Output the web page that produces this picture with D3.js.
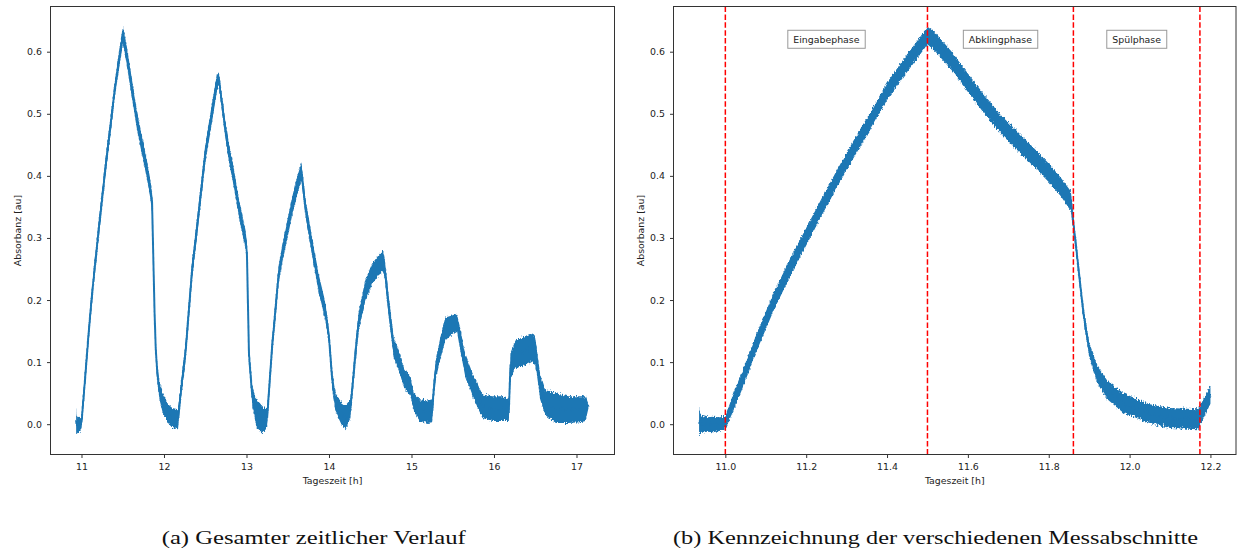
<!DOCTYPE html>
<html>
<head>
<meta charset="utf-8">
<script src="https://cdn.jsdelivr.net/npm/d3@7"></script>
<style>
  body { margin: 0; background: #fff; }
  svg { display: block; }
  .tick text { font-family: "DejaVu Sans", sans-serif; font-size: 9.4px; fill: #222; }
  .tick line { stroke: #333; }
  .label { font-family: "DejaVu Sans", sans-serif; font-size: 9.4px; fill: #222; }
  .caption { font-family: "Liberation Serif", serif; font-size: 19px; fill: #111; }
</style>
</head>
<body>
<svg id="chart" width="1238" height="554"></svg>
<script>
// absorbance measurement: time of day [h] with lower / upper edge of the noisy trace
const hours = [
  10.935, 10.940, 10.955, 10.970, 10.985, 11.000, 11.020, 11.040, 11.080, 11.120,
  11.160, 11.200, 11.240, 11.280, 11.320, 11.360, 11.400, 11.440, 11.480, 11.500,
  11.520, 11.560, 11.600, 11.640, 11.680, 11.720, 11.760, 11.800, 11.830, 11.855,
  11.865, 11.874, 11.886, 11.900, 11.920, 11.945, 11.985, 12.050, 12.100, 12.170,
  12.200, 12.260, 12.340, 12.420, 12.500, 12.580, 12.640, 12.665, 12.745, 12.790,
  12.830, 12.907, 12.990, 13.005, 13.030, 13.070, 13.120, 13.200, 13.250, 13.310,
  13.390, 13.450, 13.550, 13.630, 13.665, 13.715, 13.796, 13.876, 13.958, 14.000,
  14.040, 14.080, 14.150, 14.200, 14.260, 14.320, 14.360, 14.440, 14.520, 14.600,
  14.655, 14.680, 14.720, 14.785, 14.850, 14.910, 14.990, 15.030, 15.100, 15.200,
  15.250, 15.290, 15.350, 15.410, 15.490, 15.550, 15.590, 15.650, 15.740, 15.860,
  15.980, 16.100, 16.180, 16.200, 16.260, 16.380, 16.460, 16.500, 16.520, 16.560,
  16.620, 16.750, 16.900, 17.050, 17.110, 17.150
];
const absLow = [
  -0.016, -0.014, -0.012, -0.013, -0.011, -0.008, 0.022, 0.054, 0.122, 0.184,
  0.238, 0.288, 0.338, 0.386, 0.432, 0.476, 0.522, 0.559, 0.594, 0.612,
  0.600, 0.570, 0.535, 0.501, 0.469, 0.443, 0.417, 0.390, 0.367, 0.343,
  0.290, 0.238, 0.168, 0.110, 0.066, 0.040, 0.018, 0.002, -0.006, -0.008,
  0.033, 0.100, 0.232, 0.325, 0.420, 0.485, 0.535, 0.545, 0.458, 0.420,
  0.394, 0.334, 0.281, 0.262, 0.100, 0.030, -0.005, -0.015, -0.005, 0.110,
  0.228, 0.270, 0.334, 0.377, 0.392, 0.334, 0.270, 0.211, 0.165, 0.128,
  0.055, 0.020, 0.000, -0.008, 0.010, 0.098, 0.150, 0.198, 0.225, 0.240,
  0.245, 0.230, 0.178, 0.107, 0.085, 0.059, 0.045, 0.020, 0.005, 0.002,
  0.003, 0.070, 0.105, 0.135, 0.145, 0.150, 0.120, 0.078, 0.045, 0.010,
  0.005, 0.005, 0.005, 0.075, 0.090, 0.095, 0.100, 0.095, 0.080, 0.040,
  0.015, 0.002, 0.002, 0.003, 0.005, 0.029
];
const absHigh = [
  0.027, 0.014, 0.011, 0.012, 0.011, 0.012, 0.050, 0.082, 0.150, 0.212,
  0.266, 0.316, 0.366, 0.414, 0.460, 0.504, 0.550, 0.587, 0.622, 0.640,
  0.630, 0.600, 0.565, 0.531, 0.499, 0.473, 0.447, 0.420, 0.397, 0.375,
  0.312, 0.258, 0.188, 0.132, 0.094, 0.070, 0.050, 0.032, 0.026, 0.024,
  0.062, 0.130, 0.262, 0.355, 0.450, 0.515, 0.562, 0.567, 0.488, 0.450,
  0.424, 0.364, 0.311, 0.290, 0.125, 0.060, 0.040, 0.028, 0.025, 0.138,
  0.256, 0.300, 0.364, 0.407, 0.422, 0.364, 0.300, 0.241, 0.195, 0.152,
  0.085, 0.050, 0.035, 0.030, 0.040, 0.128, 0.182, 0.232, 0.258, 0.272,
  0.280, 0.262, 0.210, 0.140, 0.118, 0.090, 0.075, 0.050, 0.040, 0.038,
  0.040, 0.100, 0.140, 0.172, 0.175, 0.178, 0.155, 0.113, 0.082, 0.048,
  0.045, 0.045, 0.040, 0.115, 0.135, 0.142, 0.147, 0.140, 0.120, 0.080,
  0.055, 0.050, 0.045, 0.045, 0.045, 0.031
];

// phase boundaries of the first measurement cycle
const phaseBounds = [11.0, 11.5, 11.861, 12.174];
const phaseNames = ["Eingabephase", "Abklingphase", "Spülphase"];
const phaseLabelLevel = 0.62;

const ticksFull = [11, 12, 13, 14, 15, 16, 17];
const ticksCycle = [11.0, 11.2, 11.4, 11.6, 11.8, 12.0, 12.2];
const ticksAbs = [0.0, 0.1, 0.2, 0.3, 0.4, 0.5, 0.6];

const blue = "#1f77b4";
const svg = d3.select("#chart");
const rows = hours.map((h, i) => ({ h, lo: absLow[i], hi: absHigh[i] }));

// rough edges for the sensor noise: vertical-only displacement
const defs = svg.append("defs");
const rough = defs.append("filter").attr("id", "rough")
  .attr("x", "-2%").attr("y", "-10%").attr("width", "104%").attr("height", "120%");
rough.append("feTurbulence")
  .attr("type", "fractalNoise").attr("baseFrequency", "0.9 0.35")
  .attr("numOctaves", 2).attr("seed", 3).attr("result", "noise");
rough.append("feColorMatrix").attr("in", "noise").attr("type", "matrix")
  .attr("values", "0 0 0 0 0.5  0 1 0 0 0  0 0 1 0 0  0 0 0 0 1")
  .attr("result", "shift");
rough.append("feDisplacementMap")
  .attr("in", "SourceGraphic").attr("in2", "shift")
  .attr("scale", 7).attr("xChannelSelector", "R").attr("yChannelSelector", "G");

// matplotlib-style 5% autoscale margin
function padded(ext, f = 0.05) {
  const d = (ext[1] - ext[0]) * f;
  return [ext[0] - d, ext[1] + d];
}

function drawPanel(id, box, data, xTicks, xFmt, caption) {
  const x = d3.scaleLinear()
    .domain(padded(d3.extent(data, d => d.h)))
    .range([box.left, box.right]);
  const y = d3.scaleLinear()
    .domain(padded([d3.min(data, d => d.lo), d3.max(data, d => d.hi)]))
    .range([box.bottom, box.top]);

  const g = svg.append("g");

  defs.append("clipPath").attr("id", "clip-" + id)
    .append("rect")
    .attr("x", box.left).attr("y", box.top)
    .attr("width", box.right - box.left).attr("height", box.bottom - box.top);

  const plot = g.append("g").attr("clip-path", `url(#clip-${id})`)
    .append("g").attr("filter", "url(#rough)");

  // noise band of the trace
  plot.append("path")
    .datum(data)
    .attr("fill", blue)
    .attr("d", d3.area().x(d => x(d.h)).y0(d => y(d.lo)).y1(d => y(d.hi)));

  // centre line keeps steep flanks visible
  plot.append("path")
    .datum(data)
    .attr("fill", "none")
    .attr("stroke", blue)
    .attr("stroke-width", 2)
    .attr("stroke-linejoin", "round")
    .attr("d", d3.line().x(d => x(d.h)).y(d => y((d.lo + d.hi) / 2)));

  g.append("g")
    .attr("transform", `translate(0,${box.bottom})`)
    .call(d3.axisBottom(x).tickValues(xTicks).tickFormat(xFmt).tickSize(3.5).tickPadding(5))
    .call(a => a.select(".domain").remove());

  g.append("g")
    .attr("transform", `translate(${box.left},0)`)
    .call(d3.axisLeft(y).tickValues(ticksAbs).tickFormat(d3.format(".1f")).tickSize(3.5).tickPadding(5))
    .call(a => a.select(".domain").remove());

  g.append("text").attr("class", "label")
    .attr("x", (box.left + box.right) / 2).attr("y", box.bottom + 29)
    .attr("text-anchor", "middle")
    .text("Tageszeit [h]");

  g.append("text").attr("class", "label")
    .attr("transform", `translate(${box.left - 30},${(box.top + box.bottom) / 2}) rotate(-90)`)
    .attr("text-anchor", "middle")
    .text("Absorbanz [au]");

  g.append("text").attr("class", "caption")
    .attr("x", caption.x).attr("y", 544)
    .attr("text-anchor", "middle")
    .attr("textLength", caption.width)
    .attr("lengthAdjust", "spacingAndGlyphs")
    .text(caption.text);

  return { g, x, y };
}

const full = drawPanel("full",
  { left: 50.5, right: 614.5, top: 6.5, bottom: 454.5 },
  rows, ticksFull, d3.format("d"),
  { x: 313.7, width: 304, text: "(a) Gesamter zeitlicher Verlauf" });

const cycle = drawPanel("cycle",
  { left: 673.5, right: 1236, top: 6.5, bottom: 454.5 },
  rows.filter(d => d.h <= 12.2), ticksCycle, d3.format(".1f"),
  { x: 935.5, width: 525, text: "(b) Kennzeichnung der verschiedenen Messabschnitte" });

// phase markers
cycle.g.selectAll("line.phase")
  .data(phaseBounds)
  .join("line")
  .attr("class", "phase")
  .attr("x1", d => cycle.x(d)).attr("x2", d => cycle.x(d))
  .attr("y1", 6.5).attr("y2", 454.5)
  .attr("stroke", "#ff0000")
  .attr("stroke-width", 1.5)
  .attr("stroke-dasharray", "5.5,2.4");

const tags = cycle.g.selectAll("g.phase-tag")
  .data(phaseNames)
  .join("g")
  .attr("class", "phase-tag")
  .attr("transform", (d, i) =>
    `translate(${cycle.x((phaseBounds[i] + phaseBounds[i + 1]) / 2)},${cycle.y(phaseLabelLevel)})`);

tags.append("rect");
tags.append("text").attr("class", "label")
  .attr("text-anchor", "middle")
  .attr("dy", "0.35em")
  .text(d => d);
tags.each(function () {
  const t = d3.select(this);
  const bb = t.select("text").node().getBBox();
  t.select("rect")
    .attr("x", bb.x - 5.5).attr("y", -9)
    .attr("width", bb.width + 11).attr("height", 18)
    .attr("fill", "#fff")
    .attr("stroke", "#999")
    .attr("stroke-width", 1);
});

// axes frames on top
[[50.5, 614.5], [673.5, 1236]].forEach(([l, r]) => {
  svg.append("rect")
    .attr("x", l).attr("y", 6.5)
    .attr("width", r - l).attr("height", 448)
    .attr("fill", "none")
    .attr("stroke", "#333")
    .attr("stroke-width", 1);
});
</script>
</body>
</html>
